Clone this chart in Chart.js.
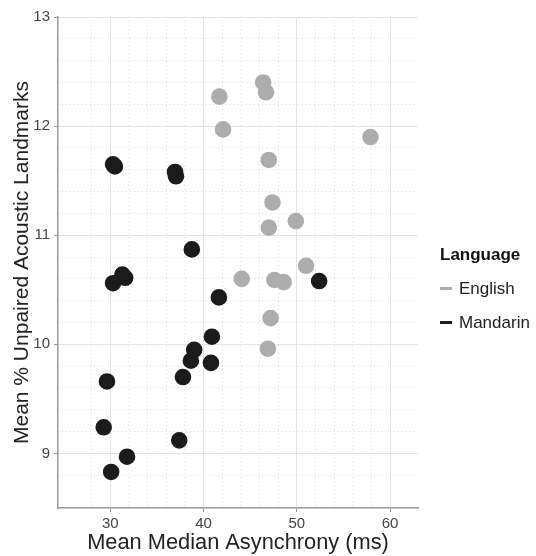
<!DOCTYPE html>
<html>
<head>
<meta charset="utf-8">
<script src="https://cdn.jsdelivr.net/npm/chart.js@4"></script>
<style>
  html, body { margin: 0; padding: 0; background: #fff; }
  .wrap { position: relative; width: 536px; height: 556px; }
  #chart { display: block; }
  .legend {
    position: absolute;
    left: 440px;
    top: 238px;
    font-family: "Liberation Sans", Arial, Helvetica, sans-serif;
    font-size: 17px;
    color: #222;
  }
  .legend-title { font-weight: bold; color: #111; line-height: 34px; }
  .legend-row { line-height: 34px; white-space: nowrap; }
  .legend-key {
    display: inline-block;
    width: 12px;
    height: 3px;
    margin-right: 7px;
    vertical-align: middle;
    position: relative;
    top: -1px;
  }
</style>
</head>
<body>
<div class="wrap">
  <canvas id="chart" width="536" height="556"></canvas>
  <div class="legend" id="legend"></div>
</div>
<script>
"use strict";

//////// data
const languages = ["English", "Mandarin"];
const englishX = [41.7, 42.1, 46.4, 46.7, 57.9, 47.0, 47.4, 49.9, 47.0, 51.0, 47.6, 48.6, 44.1, 47.2, 46.9];
const englishY = [12.27, 11.97, 12.40, 12.31, 11.90, 11.69, 11.30, 11.13, 11.07, 10.72, 10.59, 10.57, 10.60, 10.24, 9.96];
const mandarinX = [30.3, 30.5, 36.95, 37.05, 38.75, 31.3, 31.6, 30.3, 41.65, 52.4, 40.9, 39.0, 38.65, 40.8, 37.8, 29.65, 29.3, 37.4, 31.8, 30.1];
const mandarinY = [11.65, 11.63, 11.58, 11.54, 10.87, 10.64, 10.61, 10.56, 10.43, 10.58, 10.07, 9.95, 9.85, 9.83, 9.70, 9.66, 9.24, 9.12, 8.97, 8.83];
const xTicks = [30, 40, 50, 60];
const yTicks = [9, 10, 11, 12, 13];
const colors = ["#adadad", "#1b1b1b"];

const FONT = "'Liberation Sans', Arial, Helvetica, sans-serif";
const xMin = 24.4, xMax = 63;
const yMin = 8.5, yMax = 13;

const toPoints = (xs, ys) => xs.map((x, i) => ({ x: x, y: ys[i] }));

// keep only ticks that sit on a multiple of step
const onStep = (step) => (scale) => {
  scale.ticks = scale.ticks.filter((t) => {
    const r = t.value / step;
    return Math.abs(r - Math.round(r)) < 1e-6;
  });
};

// dotted minor grid, drawn under the major one
const minorAxis = (pos, min, max, step) => ({
  type: "linear",
  position: pos,
  min: min,
  max: max,
  z: -1,
  ticks: { display: false, stepSize: step },
  grid: { color: "#dcdcdc", lineWidth: 1, drawTicks: false },
  border: { display: false, dash: [1, 3] },
  afterBuildTicks: onStep(step),
});

const chart = new Chart(document.getElementById("chart"), {
  type: "scatter",
  data: {
    datasets: [
      {
        label: languages[0],
        data: toPoints(englishX, englishY),
        backgroundColor: colors[0],
        borderColor: colors[0],
        pointRadius: 6.8,
        pointBorderWidth: 3,
        pointHoverRadius: 6.8,
      },
      {
        label: languages[1],
        data: toPoints(mandarinX, mandarinY),
        backgroundColor: colors[1],
        borderColor: colors[1],
        pointRadius: 6.8,
        pointBorderWidth: 3,
        pointHoverRadius: 6.8,
      },
    ],
  },
  options: {
    responsive: false,
    animation: false,
    layout: { padding: { top: 17, left: 0, bottom: 0, right: 118 } },
    scales: {
      x: {
        type: "linear",
        position: "bottom",
        min: xMin,
        max: xMax,
        afterBuildTicks: (s) => {
          s.ticks = xTicks.map((v) => ({ value: v }));
        },
        afterFit: (s) => {
          s.height = 48;
        },
        ticks: { color: "#444", font: { family: FONT, size: 15 }, padding: 3 },
        grid: { color: "#e6e6e6", lineWidth: 1, tickLength: 4, tickColor: "#999" },
        border: { display: true, color: "#9a9a9a", width: 1.5 },
        title: {
          display: true,
          text: "Mean Median Asynchrony (ms)",
          color: "#222",
          font: { family: FONT, size: 21.8 },
          padding: { top: 1, bottom: 0 },
        },
      },
      y: {
        type: "linear",
        position: "left",
        min: yMin,
        max: yMax,
        afterBuildTicks: (s) => {
          s.ticks = yTicks.map((v) => ({ value: v }));
        },
        afterFit: (s) => {
          s.width = 58;
        },
        ticks: { color: "#444", font: { family: FONT, size: 15 }, padding: 4 },
        grid: { color: "#e6e6e6", lineWidth: 1, tickLength: 4, tickColor: "#999" },
        border: { display: true, color: "#9a9a9a", width: 1.5 },
        title: {
          display: true,
          text: "Mean % Unpaired Acoustic Landmarks",
          color: "#222",
          font: { family: FONT, size: 21 },
          padding: { top: 10, bottom: 2 },
        },
      },
      xMinor: minorAxis("bottom", xMin, xMax, 2),
      yMinor: minorAxis("left", yMin, yMax, 0.2),
    },
    plugins: {
      tooltip: { enabled: false },
      legend: { display: false },
    },
  },
});

//////// legend, built from the datasets
const legend = document.getElementById("legend");
let html = `<div class="legend-title">Language</div>`;
chart.data.datasets.forEach((ds) => {
  html += `<div class="legend-row"><span class="legend-key" style="background:${ds.borderColor}"></span>${ds.label}</div>`;
});
legend.insertAdjacentHTML("beforeend", html);
</script>
</body>
</html>
